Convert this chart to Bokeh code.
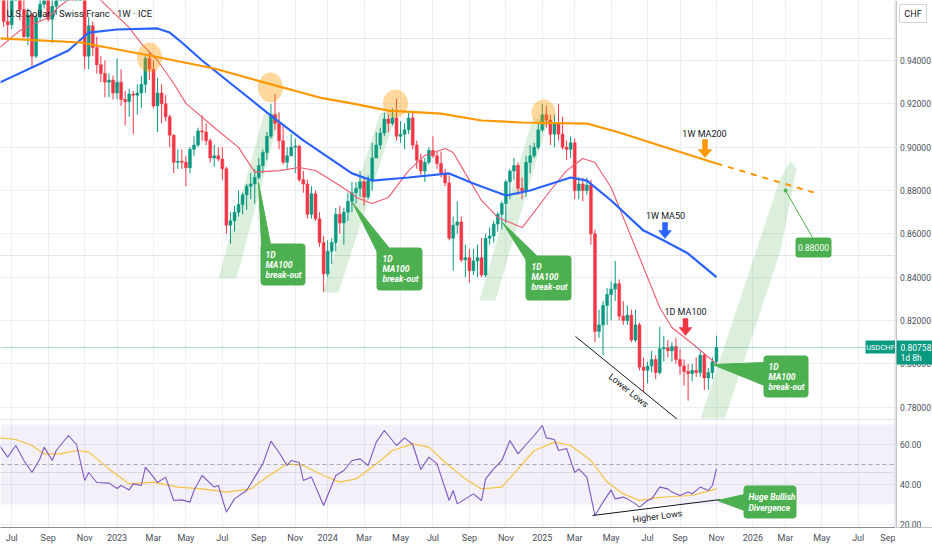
import pandas as pd
from bokeh.plotting import figure
from bokeh.layouts import row
from bokeh.models import (Range1d, FixedTicker, CustomJSTickFormatter, Span,
                          BoxAnnotation, Label, Grid)
from bokeh.core.properties import value
from bokeh.embed import file_html
from bokeh.resources import INLINE

# ------------------------------------------------------------------ data
title_text = "U.S. Dollar / Swiss Franc \u00b7 1W \u00b7 ICE"
symbol = "USDCHF"
currency = "CHF"
first_week = "2022-06-13"          # weekly candles, Monday dates
first_open = 0.9985
closes = [0.9710, 0.9580, 0.9565, 0.9750, 0.9800, 0.9635, 0.9510, 0.9610, 0.9420, 0.9600,
          0.9660, 0.9800, 0.9590, 0.9650, 0.9830, 0.9890, 0.9950, 1.0020, 0.9970, 0.9980,
          1.0030, 0.9420, 0.9560, 0.9460, 0.9380, 0.9340, 0.9300, 0.9310, 0.9250, 0.9300,
          0.9220, 0.9210, 0.9245, 0.9240, 0.9250, 0.9290, 0.9410, 0.9360, 0.9190, 0.9250,
          0.9200, 0.9140, 0.9055, 0.8930, 0.8935, 0.8930, 0.8905, 0.8990, 0.9010, 0.9075,
          0.9070, 0.9030, 0.8950, 0.8960, 0.8945, 0.8900, 0.8640, 0.8660, 0.8700, 0.8735,
          0.8780, 0.8820, 0.8830, 0.8860, 0.8915, 0.8975, 0.9050, 0.9150, 0.9110, 0.9030,
          0.8930, 0.8960, 0.9000, 0.9005, 0.8850, 0.8830, 0.8690, 0.8785, 0.8670, 0.8560,
          0.8415, 0.8520, 0.8560, 0.8690, 0.8650, 0.8700, 0.8750, 0.8790, 0.8810, 0.8840,
          0.8770, 0.8845, 0.8950, 0.9010, 0.9065, 0.9130, 0.9110, 0.9135, 0.9050, 0.9060,
          0.9080, 0.9135, 0.9010, 0.8940, 0.8890, 0.8930, 0.8985, 0.8960, 0.8925, 0.8880,
          0.8835, 0.8580, 0.8640, 0.8655, 0.8480, 0.8490, 0.8430, 0.8475, 0.8490, 0.8410,
          0.8580, 0.8590, 0.8645, 0.8690, 0.8740, 0.8840, 0.8890, 0.8915, 0.8810, 0.8800,
          0.8930, 0.8960, 0.9000, 0.9080, 0.9150, 0.9125, 0.9060, 0.9110, 0.9060, 0.9000,
          0.8990, 0.9020, 0.8800, 0.8830, 0.8800, 0.8825, 0.8600, 0.8150, 0.8180, 0.8270,
          0.8320, 0.8345, 0.8370, 0.8220, 0.8200, 0.8225, 0.8110, 0.8180, 0.7985, 0.7970,
          0.7990, 0.8020, 0.7960, 0.8070, 0.8075, 0.8060, 0.8080, 0.8020, 0.7990, 0.7965,
          0.7955, 0.7970, 0.7960, 0.8040, 0.7935, 0.7960, 0.8010, 0.80758]
highs = [1.0050, 0.9740, 0.9680, 0.9770, 0.9886, 0.9805, 0.9690, 0.9640, 0.9620, 0.9610,
         0.9700, 0.9810, 0.9870, 0.9690, 0.9860, 1.0000, 0.9990, 1.0060, 1.0050, 1.0030,
         1.0148, 1.0090, 0.9600, 0.9580, 0.9510, 0.9420, 0.9400, 0.9340, 0.9330, 0.9410,
         0.9360, 0.9260, 0.9270, 0.9260, 0.9290, 0.9330, 0.9420, 0.9440, 0.9400, 0.9320,
         0.9290, 0.9240, 0.9150, 0.9060, 0.8990, 0.8990, 0.8960, 0.9000, 0.9050, 0.9090,
         0.9147, 0.9110, 0.9040, 0.9010, 0.9000, 0.9000, 0.8910, 0.8700, 0.8730, 0.8800,
         0.8790, 0.8830, 0.8880, 0.8900, 0.8950, 0.8990, 0.9070, 0.9200, 0.9245, 0.9160,
         0.9100, 0.9000, 0.9060, 0.9040, 0.9010, 0.8890, 0.8850, 0.8820, 0.8800, 0.8700,
         0.8590, 0.8570, 0.8580, 0.8720, 0.8730, 0.8720, 0.8790, 0.8840, 0.8840, 0.8890,
         0.8860, 0.8870, 0.9020, 0.9070, 0.9090, 0.9160, 0.9150, 0.9180, 0.9225, 0.9120,
         0.9110, 0.9160, 0.9160, 0.9030, 0.8970, 0.8950, 0.9000, 0.9050, 0.8980, 0.8980,
         0.8900, 0.8870, 0.8680, 0.8750, 0.8680, 0.8550, 0.8530, 0.8530, 0.8550, 0.8580,
         0.8600, 0.8630, 0.8660, 0.8700, 0.8750, 0.8850, 0.8900, 0.8950, 0.8930, 0.8860,
         0.8960, 0.9010, 0.9020, 0.9110, 0.9200, 0.9190, 0.9150, 0.9150, 0.9200, 0.9140,
         0.9030, 0.9050, 0.9040, 0.8860, 0.8860, 0.8860, 0.8850, 0.8620, 0.8250, 0.8290,
         0.8350, 0.8380, 0.8475, 0.8390, 0.8290, 0.8270, 0.8250, 0.8250, 0.8190, 0.8030,
         0.8010, 0.8060, 0.8040, 0.8170, 0.8130, 0.8110, 0.8100, 0.8120, 0.8070, 0.8020,
         0.8000, 0.8000, 0.8030, 0.8060, 0.8050, 0.7980, 0.8030, 0.8130]
lows = [0.9640, 0.9555, 0.9495, 0.9545, 0.9725, 0.9585, 0.9505, 0.9470, 0.9370, 0.9410,
        0.9580, 0.9640, 0.9580, 0.9480, 0.9610, 0.9770, 0.9790, 0.9930, 0.9920, 0.9840,
        0.9920, 0.9360, 0.9360, 0.9420, 0.9340, 0.9300, 0.9230, 0.9230, 0.9220, 0.9220,
        0.9190, 0.9100, 0.9140, 0.9060, 0.9150, 0.9180, 0.9250, 0.9310, 0.9180, 0.9070,
        0.9110, 0.9120, 0.9000, 0.8880, 0.8900, 0.8900, 0.8820, 0.8880, 0.8960, 0.9000,
        0.9030, 0.9010, 0.8930, 0.8910, 0.8935, 0.8850, 0.8600, 0.8555, 0.8610, 0.8680,
        0.8690, 0.8710, 0.8760, 0.8740, 0.8850, 0.8880, 0.8940, 0.9040, 0.9080, 0.8990,
        0.8920, 0.8900, 0.8960, 0.8880, 0.8840, 0.8790, 0.8670, 0.8670, 0.8660, 0.8540,
        0.8333, 0.8400, 0.8460, 0.8520, 0.8600, 0.8550, 0.8660, 0.8700, 0.8740, 0.8770,
        0.8730, 0.8760, 0.8800, 0.8950, 0.8990, 0.9050, 0.9070, 0.9100, 0.9030, 0.9020,
        0.8990, 0.9060, 0.8990, 0.8900, 0.8870, 0.8840, 0.8920, 0.8950, 0.8900, 0.8860,
        0.8820, 0.8570, 0.8430, 0.8600, 0.8470, 0.8400, 0.8375, 0.8410, 0.8400, 0.8400,
        0.8400, 0.8550, 0.8560, 0.8610, 0.8620, 0.8650, 0.8760, 0.8850, 0.8780, 0.8760,
        0.8770, 0.8880, 0.8950, 0.8990, 0.9070, 0.9090, 0.9010, 0.9000, 0.9030, 0.8990,
        0.8940, 0.8950, 0.8760, 0.8760, 0.8750, 0.8780, 0.8550, 0.8100, 0.8120, 0.8040,
        0.8180, 0.8200, 0.8290, 0.8200, 0.8180, 0.8180, 0.8100, 0.8100, 0.7970, 0.7870,
        0.7910, 0.7960, 0.7930, 0.7950, 0.8010, 0.8030, 0.8010, 0.8000, 0.7950, 0.7900,
        0.7830, 0.7920, 0.7940, 0.7940, 0.7880, 0.7880, 0.7930, 0.7990]
last_price = 0.80758
countdown = "1d 8h"

# moving averages at candle indices
ma200_idx = [0, 20, 37, 53, 68, 79, 87, 96, 109, 119, 129, 145, 153, 163, 177]
ma200_val = [0.9502, 0.9483, 0.9423, 0.9363, 0.9285, 0.9229, 0.9202, 0.9169, 0.9155,
             0.9123, 0.9114, 0.9109, 0.9068, 0.9008, 0.8925]
ma200_proj_date = "2026-04-20"
ma200_proj_val = 0.8791
ma50_idx = [0, 8, 17, 22, 29, 39, 42, 45, 50, 58, 67, 75, 87, 92, 101, 111, 117, 125,
            131, 141, 145, 151, 159, 164, 170, 177]
ma50_val = [0.9298, 0.9368, 0.9446, 0.9529, 0.9543, 0.9548, 0.9529, 0.9483, 0.9400,
            0.9280, 0.9146, 0.9031, 0.8879, 0.8846, 0.8860, 0.8879, 0.8832, 0.8777,
            0.8800, 0.8860, 0.8846, 0.8754, 0.8615, 0.8569, 0.8509, 0.8400]
ma100d_idx = [0, 5, 12, 15, 21, 25, 32, 35, 39, 43, 46, 53, 59, 63, 69, 74, 78, 82, 87,
              88, 92, 96, 101, 105, 110, 112, 115, 119, 123, 126, 129, 131, 136, 140,
              144, 147, 151, 155, 159, 163, 166, 171, 177]
ma100d_val = [0.9460, 0.9538, 0.9598, 0.9654, 0.9732, 0.9677, 0.9552, 0.9478, 0.9400,
              0.9294, 0.9202, 0.9091, 0.8999, 0.8885, 0.8892, 0.8906, 0.8892, 0.8846,
              0.8786, 0.8768, 0.8740, 0.8768, 0.8892, 0.8962, 0.8994, 0.8975, 0.8879,
              0.8754, 0.8676, 0.8652, 0.8629, 0.8676, 0.8800, 0.8892, 0.8948, 0.8929,
              0.8814, 0.8629, 0.8445, 0.8260, 0.8168, 0.8094, 0.8000]

# RSI pane
rsi_idx = [0, 2, 4, 6, 8, 10, 11, 13, 14, 17, 19, 21, 22, 24, 27, 29, 30, 32, 33, 35,
           36, 38, 39, 41, 43, 45, 47, 48, 50, 53, 54, 56, 58, 61, 63, 65, 67, 69, 71, 72,
           74, 75, 77, 80, 83, 85, 87, 89, 91, 93, 95, 96, 98, 100, 102, 104, 106, 108,
           111, 112, 113, 115, 117, 119, 120, 122, 124, 126, 128, 130, 132, 134, 135, 137,
           138, 140, 142, 143, 145, 147, 149, 151, 152, 154, 155, 157, 158, 160, 161, 163,
           165, 166, 168, 170, 171, 173, 175, 176, 177]
rsi_val = [59.5, 53.7, 59.5, 52, 46, 53, 58.7, 52, 57, 64.5, 60, 42, 46, 41, 40.7, 38,
           39.5, 37.3, 40.3, 39.5, 48.7, 43.7, 41, 43.7, 32, 32.3, 31.2, 37, 44.5, 38.7,
           39.5, 26.2, 32.8, 37, 43.7, 50.3, 61.7, 56, 49.5, 52, 51, 42, 43.7, 29.5, 44.5,
           47, 52, 52.8, 49.5, 61.2, 67, 64.5, 59.5, 63.3, 60, 47.5, 53.7, 50.3, 32, 37,
           30.3, 32.8, 35.3, 32, 42.8, 47.8, 52, 62, 55.3, 60, 64.5, 69.5, 63.3, 62.5, 57,
           58, 46, 47.8, 43.7, 24.5, 31.2, 37.3, 32.8, 33.7, 32.8, 30.3, 28.7, 32, 32.8,
           38.7, 37.8, 36.2, 34.5, 36.2, 35.3, 38.7, 37, 39.5, 47.8]
rsi_ma_idx = [0, 4, 8, 11, 15, 19, 22, 27, 32, 38, 44, 50, 56, 62, 66, 71, 75, 80, 84, 88,
              93, 97, 102, 106, 110, 115, 119, 124, 128, 132, 137, 141, 146, 150, 154,
              158, 162, 166, 171, 174, 177]
rsi_ma_val = [63.3, 62.5, 59.5, 55.3, 55.3, 57, 56.2, 47.8, 40.3, 41.2, 38.7, 37.8, 36.2,
              37.8, 43.7, 50.3, 49.5, 44.5, 41.2, 42.8, 50.3, 57, 60.3, 58.7, 51, 42.8,
              37.8, 38.7, 47.8, 57, 61.2, 59.5, 52, 41.2, 35.3, 32, 33.3, 34, 34.5, 36.2,
              37.8]
rsi_upper, rsi_mid, rsi_lower = 70, 50, 30

target_text = "0.88000"
price_ticks = [0.78, 0.80, 0.82, 0.84, 0.86, 0.88, 0.90, 0.92, 0.94]
rsi_ticks = [20, 40, 60]
month_tick_dates = ["2022-07-04", "2022-09-05", "2022-11-07", "2023-01-02", "2023-03-06",
                    "2023-05-01", "2023-07-03", "2023-09-04", "2023-11-06", "2024-01-01",
                    "2024-03-04", "2024-05-06", "2024-07-01", "2024-09-02", "2024-11-04",
                    "2025-01-06", "2025-03-03", "2025-05-05", "2025-07-07", "2025-09-01",
                    "2025-11-03", "2026-01-05", "2026-03-02", "2026-05-04", "2026-07-06",
                    "2026-09-07"]
month_tick_labels = ["Jul", "Sep", "Nov", "2023", "Mar", "May", "Jul", "Sep", "Nov", "2024",
                     "Mar", "May", "Jul", "Sep", "Nov", "2025", "Mar", "May", "Jul", "Sep",
                     "Nov", "2026", "Mar", "May", "Jul", "Sep"]

# ------------------------------------------------------------------ geometry
DAY_MS = 86400000.0
WEEK_MS = 7 * DAY_MS
T0 = pd.Timestamp(first_week).value / 1e6


def ms(d):
    return pd.Timestamp(d).value / 1e6


def wx(w):
    return T0 + w * WEEK_MS


# layout of the reference canvas: used to place the hand-drawn annotations
PXW, PX0 = 4.05, -0.9                 # px per week, px of week 0
PPU, PY0, PV0 = 2167.0, 60.0, 0.94    # px per price unit, anchor px, anchor price


def rx(px):
    return wx((px - PX0) / PXW)


def ry(py):
    return PV0 - (py - PY0) / PPU


def rsi_at(py):
    return 60.0 - (py - 444.0) / 2.0


FRAME_W, FRAME_H = 895, 527
X0, X1 = rx(0), rx(FRAME_W)
P_HI, P_LO = ry(0), ry(FRAME_H)
R_HI, R_LO = rsi_at(0), rsi_at(FRAME_H)
PANE_SPLIT = ry(419)

dates = pd.date_range(first_week, periods=len(closes), freq="7D")
xs = [d.value / 1e6 for d in dates]
opens = [first_open] + closes[:-1]

FONT = "Roboto"
UP, DOWN = "#089981", "#f23645"
GREEN = "#4caf50"
INK = "#131722"
AXIS = "#8c8f99"
TICKC = "#4a4e59"
GRIDC = "#eceef3"
TOTAL_H = 550
BOTTOM = TOTAL_H - FRAME_H
SCALE_W = 37

p = figure(width=FRAME_W, height=TOTAL_H, x_axis_type="datetime",
           y_axis_location=None, toolbar_location=None, output_backend="svg",
           x_range=Range1d(X0, X1), y_range=Range1d(P_LO, P_HI),
           min_border_left=0, min_border_top=0, min_border_right=0,
           min_border_bottom=BOTTOM, background_fill_color="white",
           border_fill_color="white")
p.extra_y_ranges = {"rsi": Range1d(R_LO, R_HI)}
p.outline_line_color = None

# time axis / grids
tick_ms = [ms(d) for d in month_tick_dates]
p.xaxis.ticker = FixedTicker(ticks=tick_ms)
p.xaxis.formatter = CustomJSTickFormatter(args=dict(tk=tick_ms, lb=month_tick_labels), code="""
for (let i = 0; i < tk.length; i++) { if (Math.abs(tk[i] - tick) < 1000) return lb[i]; }
return "";
""")
p.xaxis.major_tick_line_color = None
p.xaxis.minor_tick_line_color = None
p.xaxis.major_tick_out = 0
p.xaxis.major_tick_in = 0
p.xaxis.minor_tick_out = 0
p.xaxis.axis_line_color = AXIS
p.xaxis.major_label_text_font = FONT
p.xaxis.major_label_text_font_size = "9px"
p.xaxis.major_label_text_color = TICKC
p.xaxis.major_label_standoff = 5
p.xgrid.ticker = FixedTicker(ticks=tick_ms)
p.xgrid.grid_line_color = GRIDC

rsi_tick_pos = [P_LO + (r - R_LO) / (R_HI - R_LO) * (P_HI - P_LO) for r in rsi_ticks]
ytick_pos = rsi_tick_pos + price_ticks
p.add_layout(Grid(dimension=1, ticker=FixedTicker(ticks=ytick_pos), grid_line_color=GRIDC))

# RSI pane background
p.add_layout(BoxAnnotation(bottom=rsi_lower, top=rsi_upper, y_range_name="rsi",
                           fill_color="#7e57c2", fill_alpha=0.09, line_color=None,
                           level="underlay"))
p.add_layout(Span(location=rsi_mid, dimension="width", y_range_name="rsi",
                  line_color="#787b86", line_dash="4 3", line_alpha=0.6, line_width=1))
p.add_layout(Span(location=PANE_SPLIT, dimension="width", line_color="#e0e3eb",
                  line_width=1))

# green break-out channels (hand drawings)
channels = [
    [(218, 278), (236, 278), (280, 112), (264, 112)],
    [(322, 292), (338, 292), (396, 112), (380, 112)],
    [(479, 300), (495, 300), (548, 118), (532, 118)],
    [(700, 418), (779, 180), (790, 160), (796, 168), (780, 250), (757, 320),
     (732, 395), (724, 418)],
]
p.patches([[rx(a) for a, b in c] for c in channels], [[ry(b) for a, b in c] for c in channels],
          fill_color=GREEN, fill_alpha=0.2, line_color=None)

# last price line
p.add_layout(Span(location=last_price, dimension="width", line_color=UP,
                  line_alpha=0.35, line_width=1))

# candles
up_i = [i for i in range(len(closes)) if closes[i] >= opens[i]]
dn_i = [i for i in range(len(closes)) if closes[i] < opens[i]]
for idx, col in ((up_i, UP), (dn_i, DOWN)):
    p.segment([xs[i] for i in idx], [highs[i] for i in idx], [xs[i] for i in idx],
              [lows[i] for i in idx], line_color=col, line_width=1)
    p.vbar(x=[xs[i] for i in idx], width=0.72 * WEEK_MS,
           top=[max(opens[i], closes[i]) for i in idx],
           bottom=[min(opens[i], closes[i]) for i in idx],
           fill_color=col, line_color=col, line_width=0.5)

# moving averages
p.line([xs[i] for i in ma100d_idx], ma100d_val, line_color="#ef5a6f", line_width=1.1)
p.line([xs[i] for i in ma50_idx], ma50_val, line_color="#2962ff", line_width=2.2)
p.line([xs[i] for i in ma200_idx], ma200_val, line_color="#ff9800", line_width=2.2)
p.line([xs[ma200_idx[-1]], ms(ma200_proj_date)], [ma200_val[-1], ma200_proj_val],
       line_color="#ff9800", line_width=2, line_dash="6 6")

# orange highlight circles at the MA200 rejections (ref px centre, width, height)
circles = [(149, 57, 25, 30), (270, 87, 25, 30), (395, 103, 25, 28), (543, 112, 24, 26)]
p.ellipse(x=[rx(c[0]) for c in circles], y=[ry(c[1]) for c in circles],
          width=[c[2] / PXW * WEEK_MS for c in circles], height=[c[3] / PPU for c in circles],
          fill_color="#ff9800", fill_alpha=0.38, line_color=None)

# RSI
p.line([xs[i] for i in rsi_ma_idx], rsi_ma_val, y_range_name="rsi", line_color="#f5c342",
       line_width=1.2)
p.line([xs[i] for i in rsi_idx], rsi_val, y_range_name="rsi", line_color="#7e57c2",
       line_width=1.1)

# trend lines
p.line([rx(575), rx(677)], [ry(336), ry(419)], line_color=INK, line_width=1)
p.line([rx(592), rx(720)], [ry(515), ry(499)], line_color=INK, line_width=1)


def arrow(xc, top, split, tip, sh, hh, color):
    pts = [(xc - sh, top), (xc + sh, top), (xc + sh, split), (xc + hh, split), (xc, tip),
           (xc - hh, split), (xc - sh, split)]
    p.patch([rx(a) for a, b in pts], [ry(b) for a, b in pts], fill_color=color,
            line_color=color, line_width=0.5)


arrow(704.5, 139, 149, 157, 2.5, 7, "#ff9800")
arrow(664.5, 222, 230, 238, 2.5, 6.5, "#2962ff")
arrow(685, 318, 327, 335, 2.5, 6.5, DOWN)


def label(x, y, text, size="9px", color=INK, align="center", style="normal", angle=0.0,
          **kw):
    p.add_layout(Label(x=rx(x), y=ry(y), text=text, text_font=FONT, text_font_size=size,
                       text_color=color, text_align=align, text_baseline="middle",
                       text_font_style=style, angle=angle, **kw))


label(704, 133, "1W MA200")
label(665, 215, "1W MA50")
label(685, 311, "1D MA100")
label(628, 390, "Lower Lows", angle=-0.68)
label(657, 516, "Higher Lows", angle=0.13)

# callouts: box (l, t, r, b), pointer wedge, text lines
callouts = [
    ((260, 243, 305, 285), [(258, 182), (261, 244), (270, 244)], 265, [254, 264, 274]),
    ((376, 247, 422, 290), [(352, 202), (377, 252), (389, 248)], 382, [258, 268, 278]),
    ((525, 255, 571, 300), [(502, 222), (526, 260), (537, 256)], 531, [266, 276, 286]),
    ((763, 355, 808, 397), [(712, 364), (764, 362), (764, 385)], 768, [366, 376, 386]),
]
for (l, t, r, b), wedge, tx, tys in callouts:
    p.patch([rx(a) for a, c in wedge], [ry(c) for a, c in wedge], fill_color=GREEN,
            line_color=GREEN)
    p.add_layout(BoxAnnotation(left=rx(l), right=rx(r), top=ry(t), bottom=ry(b),
                               fill_color=GREEN, fill_alpha=1, line_color=None,
                               border_radius=4))
    for line_text, ty in zip(["1D", "MA100", "break-out"], tys):
        label(tx, ty, line_text, size="8.5px", color="white", align="left",
              style="bold italic")

# divergence callout
p.patch([rx(717), rx(744), rx(744)], [ry(500), ry(494), ry(510)], fill_color=GREEN,
        line_color=GREEN)
p.add_layout(BoxAnnotation(left=rx(743), right=rx(796), top=ry(485), bottom=ry(518),
                           fill_color=GREEN, fill_alpha=1, line_color=None, border_radius=4))
label(748, 496, "Huge Bullish", size="8.5px", color="white", align="left", style="bold italic")
label(748, 507, "Divergence", size="8.5px", color="white", align="left", style="bold italic")

# target callout
p.line([rx(785), rx(812)], [ry(190), ry(237)], line_color=GREEN, line_width=1)
p.scatter([rx(785)], [ry(190)], size=3, color=GREEN)
p.add_layout(BoxAnnotation(left=rx(795), right=rx(831), top=ry(237), bottom=ry(257),
                           fill_color=GREEN, fill_alpha=1, line_color=None, border_radius=3))
label(813, 247, target_text, size="8.5px", color="white")

# legend title and symbol tag
label(6, 13, title_text, size="9.5px", align="left")
p.add_layout(BoxAnnotation(left=rx(865), right=rx(895), top=ry(340), bottom=ry(353),
                           fill_color=UP, fill_alpha=1, line_color=None))
label(880, 346.5, symbol, size="7.5px", color="white")

# ------------------------------------------------------------------ price scale panel
s = figure(width=SCALE_W, height=TOTAL_H, x_range=Range1d(0, SCALE_W), y_range=p.y_range,
           x_axis_location=None, y_axis_location=None, toolbar_location=None,
           output_backend="svg", min_border_left=0, min_border_right=0, min_border_top=0,
           min_border_bottom=BOTTOM, background_fill_color="white",
           border_fill_color="white")
s.outline_line_color = None
s.xgrid.visible = False
s.ygrid.visible = False
s.add_layout(Span(location=0.5, dimension="height", line_color=AXIS, line_width=1))
s.add_layout(Span(location=P_LO, dimension="width", line_color=AXIS, line_width=1))

tick_text = ["%.2f" % r for r in rsi_ticks] + ["%.5f" % v for v in price_ticks]
s.text(x=[4.5] * len(ytick_pos), y=ytick_pos, text=tick_text, text_font=value(FONT),
       text_font_size="8.5px", text_color=TICKC, text_baseline="middle", text_align="left")

# last price tag
s.quad(left=[1], right=[SCALE_W], top=[ry(340)], bottom=[ry(364)], fill_color=UP,
       line_color=None)
s.text(x=[5, 5], y=[ry(346.5), ry(357)], text=["%.5f" % last_price, countdown],
       text_font=value(FONT), text_font_size="8.5px", text_color="white",
       text_baseline="middle", text_align="left")

# currency box
s.quad(left=[4], right=[31], top=[ry(4)], bottom=[ry(22)], fill_color="white",
       line_color="#d1d4dc", line_width=1)
s.text(x=[17.5], y=[ry(13)], text=[currency], text_font=value(FONT), text_font_size="9px",
       text_color=INK, text_baseline="middle", text_align="center")

layout = row(p, s, spacing=0)
open("out.html", "w").write(file_html(layout, INLINE))
